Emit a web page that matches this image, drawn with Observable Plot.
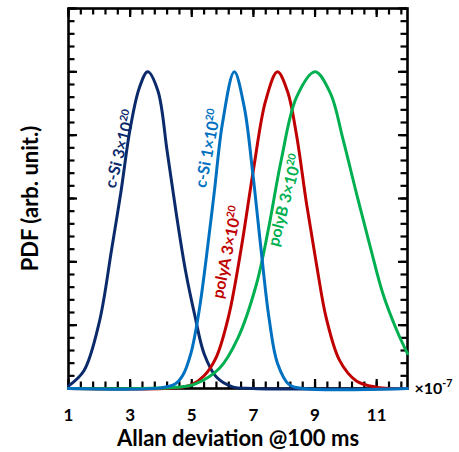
<!DOCTYPE html>
<html>
<head>
<meta charset="utf-8">
<script src="https://cdn.jsdelivr.net/npm/d3@7"></script>
<script src="https://cdn.jsdelivr.net/npm/@observablehq/plot@0.6"></script>
<style>
  body { margin: 0; background: #fff; }
</style>
</head>
<body>
<div id="chart"></div>
<script>
// Probability density curves of the Allan deviation (×10^-7) at 100 ms
const cSi3X = [1.0, 1.5, 2.0, 2.4, 2.7, 3.0, 3.3, 3.57, 3.9, 4.2, 4.5, 4.8, 5.1, 5.4, 5.8, 6.3, 7.0, 12];
const cSi3Y = [0.04, 0.28, 1.05, 2.2, 3.1, 4.1, 4.75, 5.0, 4.7, 3.75, 2.75, 1.85, 1.15, 0.55, 0.18, 0.03, 0, 0];

const cSi1X = [1, 4.0, 4.46, 4.7, 4.97, 5.24, 5.46, 5.73, 6.0, 6.38, 6.7, 6.97, 7.24, 7.51, 7.78, 8.16, 8.6, 12];
const cSi1Y = [0, 0.01, 0.07, 0.2, 0.55, 1.23, 2.02, 3.1, 4.2, 5.0, 4.45, 3.44, 2.23, 1.1, 0.4, 0.06, 0, 0];

const polyAX = [1, 4.5, 5.0, 5.4, 5.8, 6.2, 6.6, 7.0, 7.4, 7.78, 8.1, 8.4, 8.72, 9.05, 9.37, 9.8, 10.34, 11.0, 11.5, 12];
const polyAY = [0, 0.01, 0.06, 0.2, 0.5, 1.15, 2.2, 3.45, 4.55, 5.0, 4.7, 4.0, 2.93, 1.95, 1.1, 0.44, 0.12, 0.02, 0, 0];

const polyBX = [1, 4.5, 5.1, 5.9, 6.5, 7.1, 7.5, 7.9, 8.4, 9.0, 9.5, 9.9, 10.35, 10.8, 11.2, 11.65, 12];
const polyBY = [0, 0.02, 0.07, 0.32, 0.8, 1.65, 2.55, 3.6, 4.6, 5.0, 4.66, 3.95, 3.07, 2.22, 1.5, 0.92, 0.55];

const seriesNames = ["c-Si 3×10^20", "polyA 3×10^20", "polyB 3×10^20", "c-Si 1×10^20"];
const xTickLabels = [1, 3, 5, 7, 9, 11];
const xLabel = "Allan deviation @100 ms";
const yLabel = "PDF (arb. unit.)";
const xUnit = "×10^-7";

const toRows = (xs, ys) => xs.map((x, i) => ({x, y: ys[i]}));

// Drawing order, colour and label placement of each curve
const series = [
  {name: seriesNames[0], rows: toRows(cSi3X, cSi3Y), color: "#0b2a6b", lx: 2.69, ly: 3.78, angle: -75},
  {name: seriesNames[1], rows: toRows(polyAX, polyAY), color: "#c00000", lx: 6.16, ly: 2.15, angle: -78},
  {name: seriesNames[2], rows: toRows(polyBX, polyBY), color: "#00b050", lx: 8.04, ly: 2.97, angle: -75},
  {name: seriesNames[3], rows: toRows(cSi1X, cSi1Y), color: "#0070c0", lx: 5.54, ly: 3.79, angle: -79}
];

// Inward tick marks on all four sides of the frame
const xMinor = d3.range(0, 28).map(i => 1 + i * 0.4);
const yMinor = d3.range(0, 31).map(i => i * 0.2);
const yMajor = [0, 1, 2, 3, 4, 5, 6];

const W = 459, H = 452, mL = 68, mR = 52, mT = 8, mB = 64;
const fw = W - mL - mR, fh = H - mT - mB;
const xTicks = (values, len) => [
  Plot.tickX(values, {x: d => d, insetTop: fh - len, stroke: "black", strokeWidth: 2.2}),
  Plot.tickX(values, {x: d => d, insetBottom: fh - len, stroke: "black", strokeWidth: 2.2})
];
const yTicks = (values, len) => [
  Plot.tickY(values, {y: d => d, insetRight: fw - len, stroke: "black", strokeWidth: 2.2}),
  Plot.tickY(values, {y: d => d, insetLeft: fw - len, stroke: "black", strokeWidth: 2.2})
];

const chart = Plot.plot({
  width: W,
  height: H,
  marginLeft: mL,
  marginRight: mR,
  marginTop: mT,
  marginBottom: mB,
  x: {domain: [1, 12], axis: null},
  y: {domain: [0, 6], axis: null},
  style: {fontFamily: "Lato, sans-serif", fontWeight: "bold", background: "white", color: "black", overflow: "visible"},
  marks: [
    ...xTicks(xMinor, 6.5),
    ...xTicks(xTickLabels, 9),
    ...yTicks(yMinor, 6.5),
    ...yTicks(yMajor, 9),
    Plot.frame({stroke: "black", strokeWidth: 2.6}),
    Plot.axisX({anchor: "bottom", ticks: xTickLabels, tickSize: 0, tickPadding: 20, fontSize: 17, label: null}),
    ...series.map(s => Plot.line(s.rows, {x: "x", y: "y", stroke: s.color, strokeWidth: 3, curve: "catmull-rom"})),
    ...series.map(s => Plot.text([s], {
      x: "lx", y: "ly", text: "name", rotate: s.angle, fill: s.color, fontSize: 16, fontWeight: "bold"
    })),
    Plot.text([xLabel], {text: d => d, frameAnchor: "bottom", textAnchor: "middle", lineAnchor: "middle", dy: 50, fontSize: 22, fontWeight: "bold"}),
    Plot.text([yLabel], {text: d => d, frameAnchor: "left", textAnchor: "middle", lineAnchor: "middle", dx: -38, rotate: -90, fontSize: 22, fontWeight: "bold"}),
    Plot.text([xUnit], {text: d => d, frameAnchor: "bottom-right", dx: 7, textAnchor: "start", lineAnchor: "middle", fontSize: 16, fontWeight: "bold"})
  ]
});

// Render "a^b" strings with a raised exponent
d3.select(chart).selectAll("text").each(function () {
  const t = this.textContent;
  const i = t.indexOf("^");
  if (i < 0) return;
  const size = parseFloat(this.getAttribute("font-size")) ||
    parseFloat(this.parentNode.getAttribute("font-size")) || 16;
  const sel = d3.select(this);
  sel.text(null);
  sel.append("tspan").text(t.slice(0, i));
  sel.append("tspan")
    .attr("dy", -size * 0.4)
    .attr("font-size", size * 0.66)
    .text(t.slice(i + 1));
});

document.getElementById("chart").append(chart);
</script>
</body>
</html>
